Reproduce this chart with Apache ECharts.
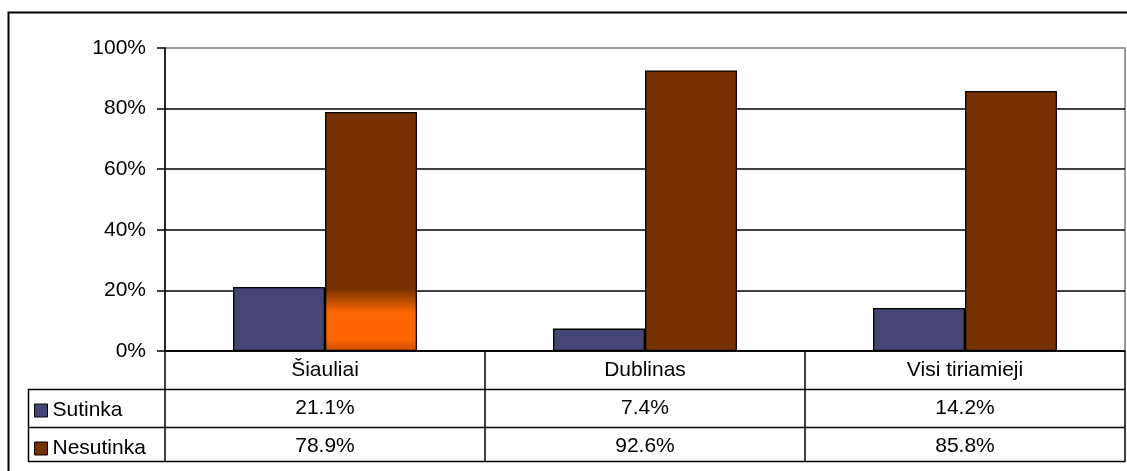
<!DOCTYPE html>
<html>
<head>
<meta charset="utf-8">
<script src="https://cdn.jsdelivr.net/npm/echarts@6/dist/echarts.min.js"></script>
<style>
html,body{margin:0;padding:0;background:#fff;}
#chart{width:1127px;height:471px;}
</style>
</head>
<body>
<div id="chart"></div>
<script>
const categories = ['Šiauliai', 'Dublinas', 'Visi tiriamieji'];
const seriesNames = ['Sutinka', 'Nesutinka'];
const sutinka = [21.1, 7.4, 14.2];
const nesutinka = [78.9, 92.6, 85.8];
const yTicks = [0, 20, 40, 60, 80, 100];

const FONT = 'Liberation Sans, Arial, sans-serif';
const FS = 21;
const colSut = '#464676';
const colNes = '#773100';
const LW = 1.5;

const chart = echarts.init(document.getElementById('chart'), null, {renderer: 'canvas'});

const nesData = nesutinka.map((v, i) => {
  if (i === 0) {
    return {
      value: v,
      itemStyle: {
        color: new echarts.graphic.LinearGradient(0, 0, 0, 1, [
          {offset: 0, color: colNes},
          {offset: 0.74, color: colNes},
          {offset: 0.84, color: '#FF6600'},
          {offset: 0.95, color: '#FF6600'},
          {offset: 1, color: '#CC5000'}
        ])
      }
    };
  }
  return v;
});

const option = {
  animation: false,
  backgroundColor: '#fff',
  textStyle: {fontFamily: FONT, color: '#000'},
  grid: {
    left: 165, right: 2, top: 48, bottom: 120,
    show: true, borderColor: '#7a7a7a', borderWidth: LW, backgroundColor: 'transparent'
  },
  legend: {
    orient: 'vertical',
    left: 29, top: 395,
    itemWidth: 13, itemHeight: 13,
    itemGap: 17,
    icon: 'rect',
    data: seriesNames,
    textStyle: {fontFamily: FONT, fontSize: FS, color: '#000', lineHeight: 21},
    itemStyle: {borderColor: '#000', borderWidth: 1},
    selectedMode: false
  },
  xAxis: {
    type: 'category',
    data: categories,
    axisLine: {show: true, lineStyle: {color: '#000', width: LW}},
    axisTick: {show: true, length: 111, interval: 0, alignWithLabel: false, lineStyle: {color: '#000', width: LW}},
    axisLabel: {
      interval: 0,
      margin: 0,
      fontFamily: FONT,
      fontSize: FS,
      color: '#000',
      lineHeight: 38,
      formatter: function (val, idx) {
        return val + '\n' + sutinka[idx].toFixed(1) + '%\n' + nesutinka[idx].toFixed(1) + '%';
      }
    },
    splitLine: {show: false}
  },
  yAxis: {
    type: 'value',
    min: yTicks[0], max: yTicks[yTicks.length - 1], interval: 20,
    axisLine: {show: true, lineStyle: {color: '#000', width: LW}},
    axisTick: {show: true, length: 8, lineStyle: {color: '#000', width: LW}},
    axisLabel: {
      margin: 19, fontFamily: FONT, fontSize: FS, color: '#000',
      formatter: '{value}%'
    },
    splitLine: {show: true, showMaxLine: false, lineStyle: {color: '#000', width: LW}}
  },
  series: [
    {
      name: seriesNames[0], type: 'bar', data: sutinka,
      barGap: '0%', barCategoryGap: '42.5%',
      itemStyle: {color: colSut, borderColor: '#000', borderWidth: 1.3}
    },
    {
      name: seriesNames[1], type: 'bar', data: nesData,
      barGap: '0%', barCategoryGap: '42.5%',
      itemStyle: {color: colNes, borderColor: '#000', borderWidth: 1.3}
    }
  ],
  graphic: [
    {type: 'rect', shape: {x: 8.5, y: 12.5, width: 1200, height: 600}, style: {fill: 'none', stroke: '#000', lineWidth: 2}, silent: true},
    {type: 'line', shape: {x1: 28, y1: 389.5, x2: 1125, y2: 389.5}, style: {stroke: '#000', lineWidth: LW}, silent: true},
    {type: 'line', shape: {x1: 28, y1: 427.5, x2: 1125, y2: 427.5}, style: {stroke: '#000', lineWidth: LW}, silent: true},
    {type: 'line', shape: {x1: 28, y1: 461.5, x2: 1125, y2: 461.5}, style: {stroke: '#000', lineWidth: LW}, silent: true},
    {type: 'line', shape: {x1: 28.5, y1: 389, x2: 28.5, y2: 462}, style: {stroke: '#000', lineWidth: LW}, silent: true}
  ]
};

chart.setOption(option);
</script>
</body>
</html>
